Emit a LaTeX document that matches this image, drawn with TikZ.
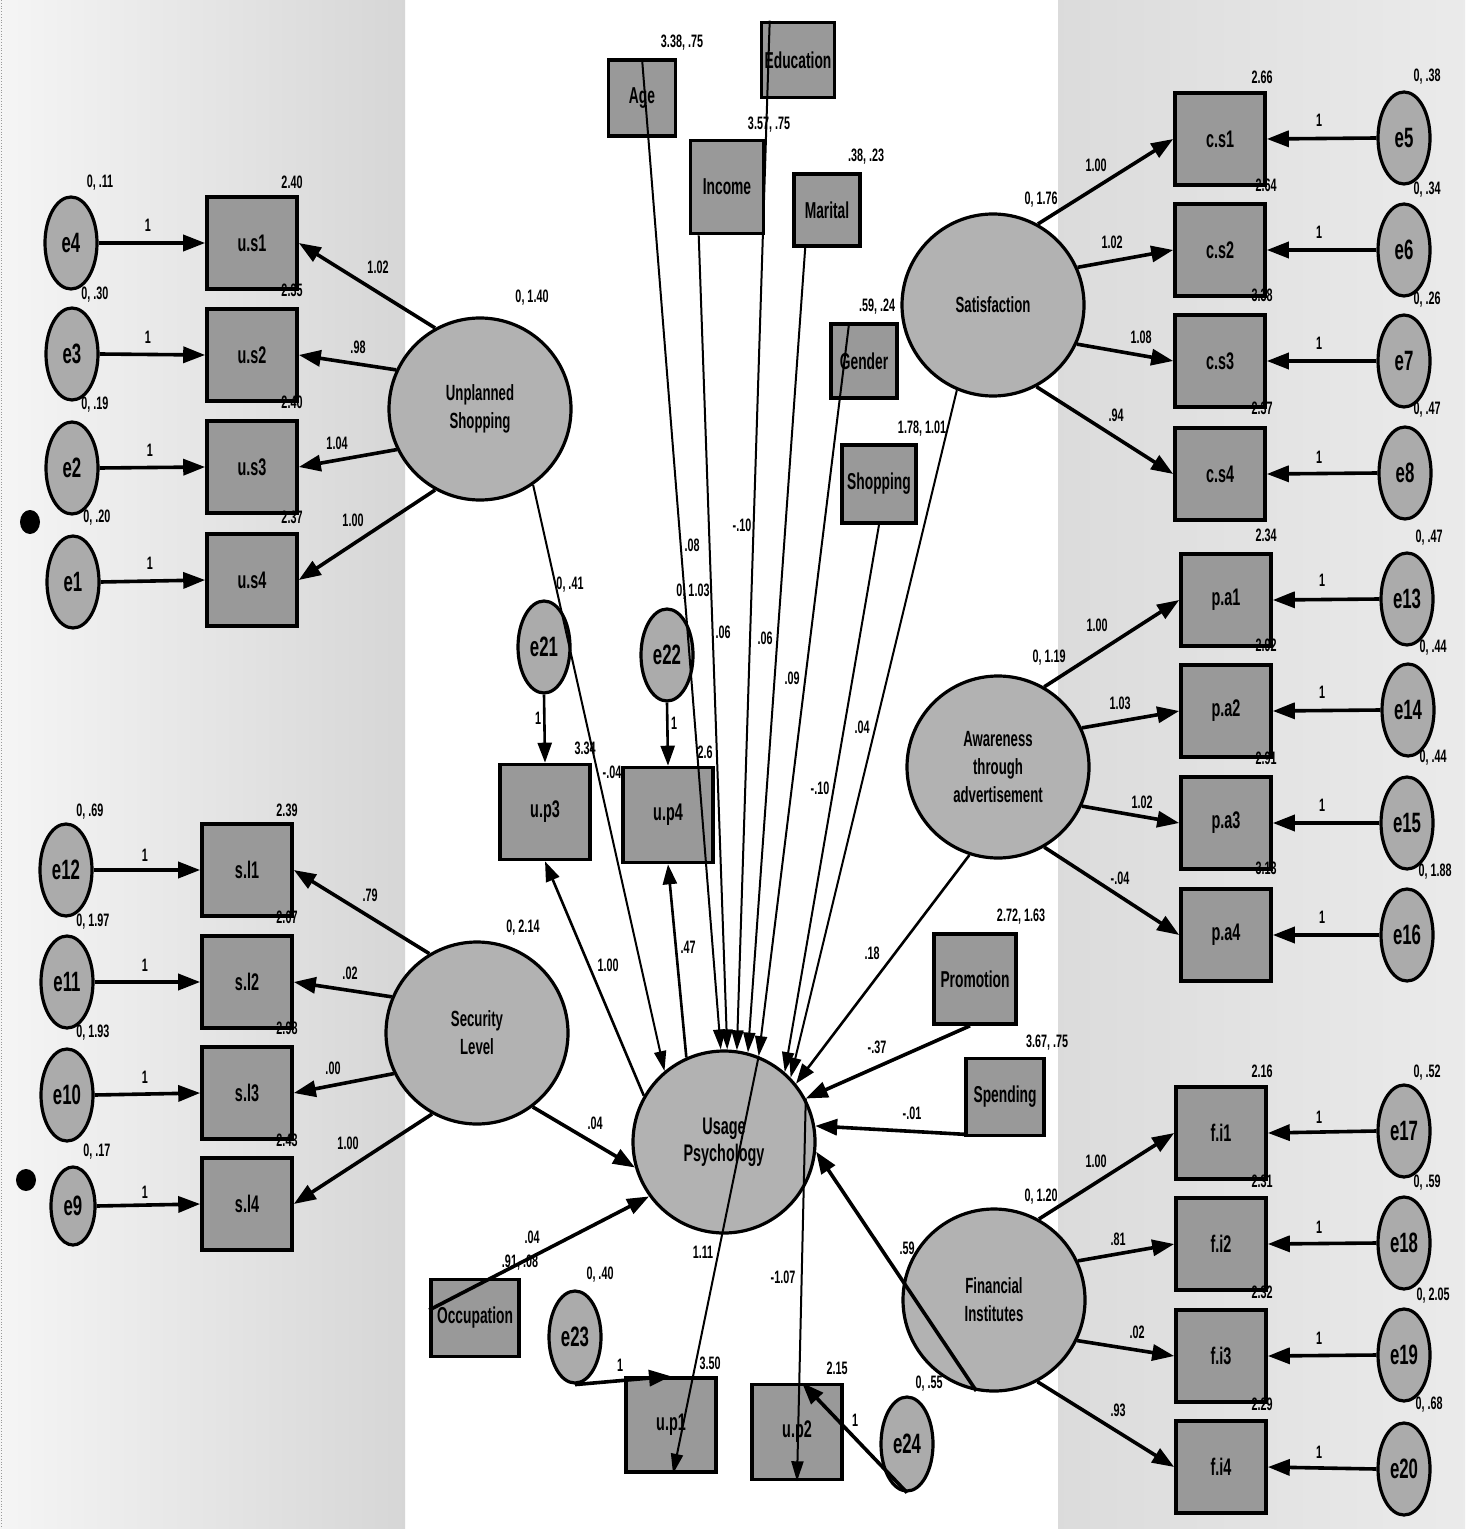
\documentclass[tikz,border=0pt]{standalone}
\usepackage{fontspec}
\setmainfont{Liberation Sans}[FakeStretch=0.6]
\usetikzlibrary{shapes.geometric,arrows.meta,calc}
\newcommand\myNum{\fontsize{9}{10}\selectfont\bfseries}
\newcommand\myObs{\fontsize{12}{13}\selectfont\bfseries}
\newcommand\myErr{\fontsize{14}{15}\selectfont\bfseries}
\newcommand\myLat{\fontsize{11}{14}\selectfont\bfseries}
\newcommand\myUP{\fontsize{12}{13.5}\selectfont\bfseries}
\newcommand\myDem{\fontsize{11.5}{12.5}\selectfont\bfseries}
\tikzset{
 obs/.style={rectangle, draw, line width=1.8pt, fill=black!40, minimum width=45pt, minimum height=46pt, inner sep=0pt, font=\myObs},
 dem/.style={rectangle, draw, line width=1.8pt, fill=black!40, inner sep=0pt, font=\myDem},
 lat/.style={circle, draw, line width=1.6pt, fill=black!30, minimum size=91pt, inner sep=0pt, font=\myLat, align=center},
 err/.style={ellipse, draw, line width=1.6pt, fill=black!33, minimum width=26pt, minimum height=46pt, inner sep=0pt, font=\myErr},
 num/.style={inner sep=0pt, font=\myNum},
 thk/.style={line width=1.8pt, -{Triangle[length=11pt,width=8pt]}},
 med/.style={line width=1.3pt, -{Triangle[length=10pt,width=7pt]}},
 thn/.style={line width=1.0pt, -{Triangle[length=10pt,width=6pt]}},
}
\begin{document}
\begin{tikzpicture}[x=0.5pt,y=-0.5pt]
\useasboundingbox (0,0) rectangle (1465,1529);
\fill[white] (0,0) rectangle (1465,1529);
\shade[left color=black!4, right color=black!16] (0,0) rectangle (405,1529);
\shade[left color=black!14, right color=black!8] (1058,0) rectangle (1465,1529);
\draw[black!40, densely dotted] (1,0) -- (1,1529);
\fill (30,522) ellipse [x radius=5pt, y radius=6pt];
\fill (26,1180) ellipse [x radius=5pt, y radius=5.5pt];

% ---------- left top ----------
\node[err] (e4) at (71,243) {e4};
\node[err] (e3) at (72,354) {e3};
\node[err] (e2) at (72,468) {e2};
\node[err] (e1) at (73,582) {e1};
\node[obs] (us1) at (252,243) {u.s1};
\node[obs] (us2) at (252,355) {u.s2};
\node[obs] (us3) at (252,467) {u.s3};
\node[obs] (us4) at (252,580) {u.s4};
\node[lat] (US) at (480,409) {Unplanned\\Shopping};

% ---------- left bottom ----------
\node[err] (e12) at (66,870) {e12};
\node[err] (e11) at (67,982) {e11};
\node[err] (e10) at (67,1095) {e10};
\node[err, minimum width=22pt, minimum height=39pt] (e9) at (73,1206) {e9};
\node[obs] (sl1) at (247,870) {s.l1};
\node[obs] (sl2) at (247,982) {s.l2};
\node[obs] (sl3) at (247,1093) {s.l3};
\node[obs] (sl4) at (247,1204) {s.l4};
\node[lat] (SL) at (477,1033) {Security\\Level};

% ---------- demographics ----------
\node[dem, minimum width=33.5pt, minimum height=38pt] (Age) at (642,98) {Age};
\node[dem, minimum width=36.5pt, minimum height=37.5pt] (Edu) at (798,60) {Education};
\node[dem, minimum width=36.5pt, minimum height=46.5pt] (Inc) at (727,187) {Income};
\node[dem, minimum width=33pt, minimum height=36pt] (Mar) at (827,210) {Marital};
\node[dem, minimum width=33pt, minimum height=37pt] (Gen) at (864,361) {Gender};
\node[dem, minimum width=37pt, minimum height=39pt] (Sho) at (879,484) {Shopping};
\node[dem, minimum width=41pt, minimum height=45pt] (Pro) at (975,979) {Promotion};
\node[dem, minimum width=39pt, minimum height=38.5pt] (Spe) at (1005,1097) {Spending};
\node[dem, minimum width=44pt, minimum height=38.5pt] (Occ) at (475,1318) {Occupation};

% ---------- centre ----------
\node[err] (e21) at (544,647) {e21};
\node[err] (e22) at (667,655) {e22};
\node[obs, minimum height=47.5pt] (up3) at (545,812) {u.p3};
\node[obs, minimum height=47.5pt] (up4) at (668,815) {u.p4};
\node[lat, font=\myUP] (UP) at (724,1142) {Usage\\Psychology};
\node[err] (e23) at (575,1337) {e23};
\node[obs, minimum height=47pt] (up1) at (671,1425) {u.p1};
\node[obs, minimum height=47.5pt] (up2) at (797,1432) {u.p2};
\node[err, minimum height=47pt] (e24) at (907,1444) {e24};

% ---------- right ----------
\node[lat] (Sat) at (993,305) {Satisfaction};
\node[obs] (cs1) at (1220,139) {c.s1};
\node[obs] (cs2) at (1220,250) {c.s2};
\node[obs] (cs3) at (1220,361) {c.s3};
\node[obs] (cs4) at (1220,474) {c.s4};
\node[err] (e5) at (1404,138) {e5};
\node[err] (e6) at (1404,250) {e6};
\node[err] (e7) at (1404,361) {e7};
\node[err] (e8) at (1405,473) {e8};

\node[lat] (Aw) at (998,767) {Awareness\\through\\advertisement};
\node[obs] (pa1) at (1226,600) {p.a1};
\node[obs] (pa2) at (1226,711) {p.a2};
\node[obs] (pa3) at (1226,823) {p.a3};
\node[obs] (pa4) at (1226,935) {p.a4};
\node[err] (e13) at (1407,599) {e13};
\node[err] (e14) at (1408,710) {e14};
\node[err] (e15) at (1407,823) {e15};
\node[err] (e16) at (1407,935) {e16};

\node[lat] (FI) at (994,1300) {Financial\\Institutes};
\node[obs] (fi1) at (1221,1133) {f.i1};
\node[obs] (fi2) at (1221,1244) {f.i2};
\node[obs] (fi3) at (1221,1356) {f.i3};
\node[obs] (fi4) at (1221,1467) {f.i4};
\node[err] (e17) at (1404,1131) {e17};
\node[err] (e18) at (1404,1243) {e18};
\node[err] (e19) at (1404,1355) {e19};
\node[err] (e20) at (1404,1469) {e20};

% ---------- measurement arrows ----------
\foreach \a/\b in {e4/us1,e3/us2,e2/us3,e1/us4,e12/sl1,e11/sl2,e10/sl3,e9/sl4}
  \draw[thk] (\a.east) -- (\b.west);
\foreach \a/\b in {e5/cs1,e6/cs2,e7/cs3,e8/cs4,e13/pa1,e14/pa2,e15/pa3,e16/pa4,e17/fi1,e18/fi2,e19/fi3,e20/fi4}
  \draw[thk] (\a.west) -- (\b.east);
\draw[thk] (US.119) -- (us1.east);
\draw[thk] (US.155) -- (us2.east);
\draw[thk] (US.206) -- (us3.east);
\draw[thk] (US.241) -- (us4.east);
\draw[thk] (SL.121) -- (sl1.east);
\draw[thk] (SL.157) -- (sl2.east);
\draw[thk] (SL.206) -- (sl3.east);
\draw[thk] (SL.241) -- (sl4.east);
\draw[thk] (Sat.61) -- (cs1.west);
\draw[thk] (Sat.24) -- (cs2.west);
\draw[thk] (Sat.-25) -- (cs3.west);
\draw[thk] (Sat.-62) -- (cs4.west);
\draw[thk] (Aw.60) -- (pa1.west);
\draw[thk] (Aw.25) -- (pa2.west);
\draw[thk] (Aw.-25) -- (pa3.west);
\draw[thk] (Aw.-60) -- (pa4.west);
\draw[thk] (FI.61) -- (fi1.west);
\draw[thk] (FI.25) -- (fi2.west);
\draw[thk] (FI.-26) -- (fi3.west);
\draw[thk] (FI.-62) -- (fi4.west);

% ---------- structural paths ----------
\draw[thn] (Age.north) -- (UP.92);
\draw[thn] ([xshift=5pt]Inc.south west) -- (UP.88);
\draw[thn] ([xshift=5pt]Edu.north west) -- (UP.82);
\draw[thn] ([xshift=6.5pt]Mar.south west) -- (UP.75);
\draw[thn] ([xshift=10pt]Gen.north west) -- (UP.68);
\draw[thn] (Sho.south) -- (UP.49);
\draw[thn] (Sat.247) -- (UP.44);
\draw[med] (Aw.252) -- (UP.39);
\draw[thk] ([xshift=-2.5pt]Pro.south) -- (UP.28);
\draw[thk] ([yshift=1.5pt]Spe.south west) -- (UP.10);
\draw[thk] (FI.259) -- (UP.-6);
\draw[thk] (SL.-53) -- (UP.196);
\draw[thk] ([yshift=4pt]Occ.west) -- (UP.216);
\draw[thn] (US.-55) -- (UP.130);
\draw[med] (UP.150) -- (up3.south);
\draw[med] (UP.114) -- (up4.south);
\draw[thn] (UP.68) -- ([xshift=1pt]up1.south);
\draw[thn] (UP.28) -- (up2.south);
\draw[med] (e21.south) -- (up3.north);
\draw[med] (e22.south) -- (up4.north);
\draw[thk] (e23.south) -- (up1.north);
\draw[thk] (e24.south) -- ([xshift=2.5pt]up2.north);

% ---------- numeric labels ----------
\foreach \p/\t [count=\i] in {
 {(100,183)}/{0, .11}, {(292,182)}/{2.40}, {(148,225)}/{1}, {(378,267)}/{1.02},
 {(95,295)}/{0, .30}, {(292,290)}/{2.35}, {(148,337)}/{1}, {(358,347)}/{.98},
 {(95,405)}/{0, .19}, {(292,402)}/{2.40}, {(150,450)}/{1}, {(337,443)}/{1.04},
 {(97,518)}/{0, .20}, {(292,517)}/{2.37}, {(150,563)}/{1}, {(353,520)}/{1.00},
 {(532,298)}/{0, 1.40},
 {(90,812)}/{0, .69}, {(287,810)}/{2.39}, {(145,855)}/{1}, {(370,895)}/{.79},
 {(93,922)}/{0, 1.97}, {(287,917)}/{2.07}, {(145,965)}/{1}, {(350,973)}/{.02},
 {(93,1033)}/{0, 1.93}, {(287,1028)}/{2.98}, {(145,1077)}/{1}, {(333,1068)}/{.00},
 {(97,1152)}/{0, .17}, {(287,1140)}/{2.43}, {(145,1192)}/{1}, {(348,1143)}/{1.00},
 {(523,928)}/{0, 2.14},
 {(682,43)}/{3.38, .75}, {(769,125)}/{3.57, .75}, {(866,157)}/{.38, .23}, {(877,307)}/{.59, .24}, {(922,429)}/{1.78, 1.01},
 {(692,545)}/{.08}, {(742,525)}/{-.10}, {(723,632)}/{.06}, {(765,638)}/{.06}, {(792,678)}/{.09}, {(820,788)}/{-.10}, {(862,727)}/{.04}, {(612,772)}/{-.04},
 {(570,585)}/{0, .41}, {(693,592)}/{0, 1.03}, {(538,718)}/{1}, {(674,723)}/{1}, {(585,748)}/{3.34}, {(705,752)}/{2.6},
 {(608,965)}/{1.00}, {(688,947)}/{.47}, {(872,953)}/{.18},
 {(595,1123)}/{.04}, {(532,1237)}/{.04}, {(520,1263)}/{.91, .08}, {(600,1275)}/{0, .40}, {(703,1252)}/{1.11}, {(783,1277)}/{-1.07},
 {(710,1363)}/{3.50}, {(837,1368)}/{2.15}, {(620,1365)}/{1}, {(855,1420)}/{1}, {(907,1248)}/{.59}, {(929,1384)}/{0, .55},
 {(877,1047)}/{-.37}, {(912,1113)}/{-.01}, {(1021,917)}/{2.72, 1.63}, {(1047,1043)}/{3.67, .75},
 {(1262,77)}/{2.66}, {(1427,77)}/{0, .38}, {(1319,120)}/{1}, {(1096,165)}/{1.00}, {(1041,200)}/{0, 1.76},
 {(1266,185)}/{2.64}, {(1427,190)}/{0, .34}, {(1319,232)}/{1}, {(1112,242)}/{1.02},
 {(1262,295)}/{3.38}, {(1427,300)}/{0, .26}, {(1319,343)}/{1}, {(1141,337)}/{1.08},
 {(1262,408)}/{2.37}, {(1427,410)}/{0, .47}, {(1319,457)}/{1}, {(1116,415)}/{.94},
 {(1266,535)}/{2.34}, {(1429,538)}/{0, .47}, {(1322,580)}/{1}, {(1097,625)}/{1.00}, {(1049,658)}/{0, 1.19},
 {(1266,645)}/{2.92}, {(1433,648)}/{0, .44}, {(1322,692)}/{1}, {(1120,703)}/{1.03},
 {(1266,758)}/{2.91}, {(1433,758)}/{0, .44}, {(1322,805)}/{1}, {(1142,802)}/{1.02},
 {(1266,868)}/{3.13}, {(1435,872)}/{0, 1.88}, {(1322,917)}/{1}, {(1120,878)}/{-.04},
 {(1262,1071)}/{2.16}, {(1427,1073)}/{0, .52}, {(1319,1117)}/{1}, {(1096,1161)}/{1.00}, {(1041,1197)}/{0, 1.20},
 {(1262,1181)}/{2.31}, {(1427,1183)}/{0, .59}, {(1319,1227)}/{1}, {(1118,1239)}/{.81},
 {(1262,1292)}/{2.32}, {(1433,1296)}/{0, 2.05}, {(1319,1338)}/{1}, {(1137,1332)}/{.02},
 {(1262,1404)}/{2.29}, {(1429,1405)}/{0, .68}, {(1319,1452)}/{1}, {(1118,1410)}/{.93}}
 \node[num] (n\i) at \p {\t};
\end{tikzpicture}
\end{document}
